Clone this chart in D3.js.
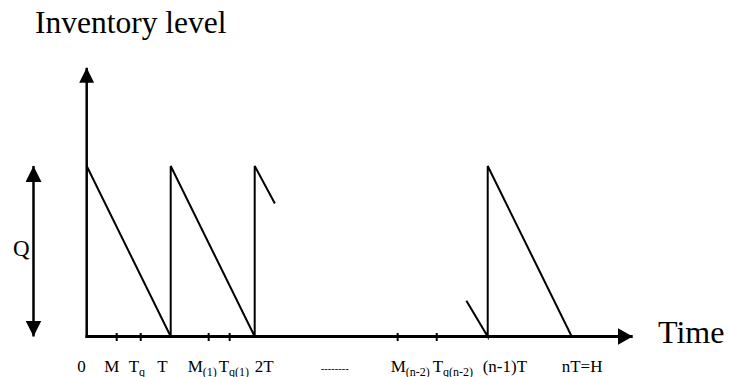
<!DOCTYPE html>
<html>
<head>
<meta charset="utf-8">
<script src="https://cdn.jsdelivr.net/npm/d3@7"></script>
<style>
  html, body { margin: 0; padding: 0; background: #fff; }
  svg { display: block; font-family: "Liberation Serif", "Times New Roman", serif; }
</style>
</head>
<body>
<svg id="chart" width="729" height="377"></svg>
<script>
// ---- data (time in units of T, inventory level in units of Q) ----
const cycle1 = [[0, 1], [1, 0], [1, 1], [2, 0], [2, 1], [2.24, 0.78]];
const cycle2 = [[4.52, 0.21], [4.774, 0], [4.774, 1.0], [5.774, 0]];
const tickTimes = [0.357, 0.643, 1.452, 1.702, 3.702, 4.167];
const labelMain = ["0", "M", "T", "T", "M", "T", "2T", "--------", "M", "T", "(n-1)T", "nT=H"];
const labelSub  = ["", "", "q", "", "(1)", "q(1)", "", "", "(n-2)", "q(n-2)", "", ""];
const labelTimes = [-0.113, 0.21, 0.5, 0.84, 1.202, 1.571, 2.0, 2.786, 3.619, 4.119, 4.714, 5.655];
const yTitle = "Inventory level";
const xTitle = "Time";
const qLabel = "Q";
const axisMaxTime = 6.5;
const axisMaxLevel = 1.576;

// ---- scales ----
const x = d3.scaleLinear().domain([0, 1]).range([86.7, 170.7]);
const y = d3.scaleLinear().domain([0, 1]).range([336.5, 166]);

const svg = d3.select("#chart");

// arrow markers
const defs = svg.append("defs");
function marker(id, w, h) {
  defs.append("marker")
    .attr("id", id)
    .attr("viewBox", `0 0 ${w} ${h}`)
    .attr("refX", w).attr("refY", h / 2)
    .attr("markerWidth", w).attr("markerHeight", h)
    .attr("markerUnits", "userSpaceOnUse")
    .attr("orient", "auto-start-reverse")
    .append("path")
    .attr("d", `M0,0 L${w},${h / 2} L0,${h} Z`)
    .attr("fill", "#000");
}
marker("arrX", 15, 17);
marker("arrY", 15, 15);
marker("arrQ", 16, 16);

// axes
svg.append("line")
  .attr("x1", x(0)).attr("y1", y(0) + 1.5)
  .attr("x2", x(0)).attr("y2", y(axisMaxLevel))
  .attr("stroke", "#000").attr("stroke-width", 2.5)
  .attr("marker-end", "url(#arrY)");
svg.append("line")
  .attr("x1", x(0) - 1.2).attr("y1", y(0))
  .attr("x2", x(axisMaxTime)).attr("y2", y(0))
  .attr("stroke", "#000").attr("stroke-width", 3)
  .attr("marker-end", "url(#arrX)");

// ticks
svg.append("g").selectAll("line").data(tickTimes).join("line")
  .attr("x1", d => x(d)).attr("x2", d => x(d))
  .attr("y1", y(0) - 3.5).attr("y2", y(0) + 4.5)
  .attr("stroke", "#000").attr("stroke-width", 2);

// sawtooth
const line = d3.line().x(d => x(d[0])).y(d => y(d[1]));
[cycle1, cycle2].forEach(c => {
  svg.append("path").attr("d", line(c))
    .attr("fill", "none").attr("stroke", "#000")
    .attr("stroke-width", 2).attr("stroke-linejoin", "miter");
});

// Q double arrow
svg.append("line")
  .attr("x1", 33.5).attr("x2", 33.5)
  .attr("y1", y(0)).attr("y2", y(1))
  .attr("stroke", "#000").attr("stroke-width", 2.5)
  .attr("marker-start", "url(#arrQ)")
  .attr("marker-end", "url(#arrQ)");
svg.append("text").attr("x", 13).attr("y", 256)
  .attr("font-size", 23).text(qLabel);

// titles
svg.append("text").attr("x", 35).attr("y", 33)
  .attr("font-size", 31.5).text(yTitle);
svg.append("text").attr("x", 658).attr("y", 343)
  .attr("font-size", 32).text(xTitle);

// tick labels
const lbl = svg.append("g").selectAll("text")
  .data(labelMain.map((m, i) => ({ m, s: labelSub[i], t: labelTimes[i] })))
  .join("text")
  .attr("x", d => x(d.t))
  .attr("y", 372)
  .attr("font-size", d => d.m.startsWith("-") ? 10.5 : 17);
lbl.append("tspan").text(d => d.m);
lbl.filter(d => d.s).append("tspan")
  .attr("font-size", 12)
  .attr("dy", 3.5)
  .text(d => d.s);
</script>
</body>
</html>
